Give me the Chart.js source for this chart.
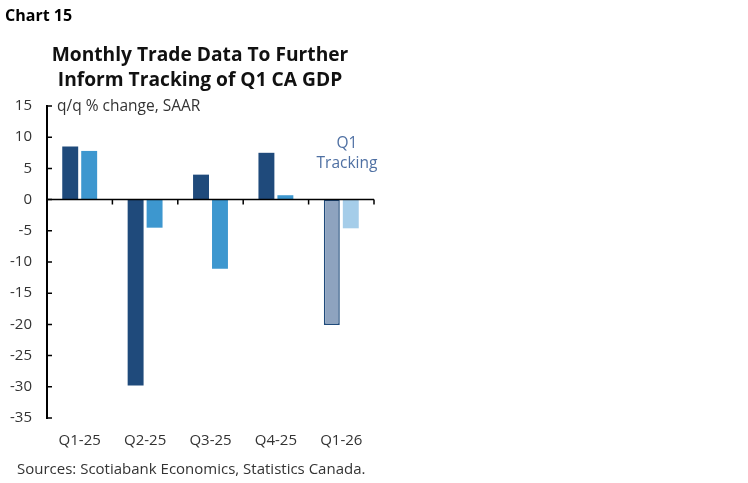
<!DOCTYPE html>
<html lang="en">
<head>
    <meta charset="UTF-8">
    <title>Chart 15</title>
    <script src="https://cdn.jsdelivr.net/npm/chart.js"></script>
    <style>
        html, body {
            margin: 0;
            padding: 0;
            background: #fff;
        }
        #wrap {
            position: relative;
            width: 748px;
            height: 483px;
            font-family: "Open Sans", Lato, sans-serif;
        }
        #chartNo {
            position: absolute;
            left: 5px;
            top: 4px;
            font-size: 16px;
            font-weight: bold;
            color: #000;
        }
        #title {
            position: absolute;
            left: 0;
            width: 400px;
            top: 41px;
            text-align: center;
            font-size: 19.2px;
            font-weight: bold;
            line-height: 25px;
            color: #111;
        }
        #source {
            position: absolute;
            left: 17px;
            top: 458px;
            font-size: 15px;
            color: #333;
        }
        canvas {
            position: absolute;
            left: 0;
            top: 0;
        }
    </style>
</head>
<body>
<div id="wrap">
    <canvas id="bars" width="748" height="483"></canvas>
    <div id="chartNo">Chart 15</div>
    <div id="title">Monthly Trade Data To Further<br>Inform Tracking of Q1 CA GDP</div>
    <div id="source">Sources: Scotiabank Economics, Statistics Canada.</div>
</div>

<script>
    const quarters = ['Q1-25', 'Q2-25', 'Q3-25', 'Q4-25', 'Q1-26'];
    const darkSeries = [8.5, -29.8, 4.0, 7.5, -20.1];
    const lightSeries = [7.8, -4.5, -11.1, 0.7, -4.6];
    const yTicks = [15, 10, 5, 0, -5, -10, -15, -20, -25, -30, -35];

    const navy = '#1f4a7b';
    const blue = '#3d97cf';
    const fontName = '"Open Sans"';

    // extra lines: zero axis with category ticks, inward y ticks, labels
    const axisBits = {
        id: 'axisBits',
        afterDatasetsDraw(chart) {
            const ctx = chart.ctx;
            const y = chart.scales.y;
            const area = chart.chartArea;
            const y0 = y.getPixelForValue(0);

            ctx.save();
            ctx.strokeStyle = '#000';
            ctx.lineWidth = 1.5;
            ctx.beginPath();
            ctx.moveTo(area.left, y0);
            ctx.lineTo(area.right, y0);
            const step = (area.right - area.left) / quarters.length;
            for (let i = 1; i <= quarters.length; i++) {
                const px = area.left + step * i;
                ctx.moveTo(px, y0);
                ctx.lineTo(px, y0 + 5);
            }
            ctx.stroke();

            ctx.beginPath();
            yTicks.forEach(v => {
                const py = y.getPixelForValue(v);
                ctx.moveTo(area.left, py);
                ctx.lineTo(area.left + 5, py);
            });
            ctx.stroke();

            ctx.fillStyle = '#333';
            ctx.font = '15.5px ' + fontName;
            ctx.textBaseline = 'middle';
            ctx.textAlign = 'left';
            ctx.fillText('q/q % change, SAAR', area.left + 10, y.getPixelForValue(15) + 1);

            ctx.fillStyle = '#4f70a3';
            ctx.font = '15.5px ' + fontName;
            ctx.textAlign = 'center';
            ctx.fillText('Q1', 347, 144);
            ctx.fillText('Tracking', 347, 164);
            ctx.restore();
        }
    };

    const ctx = document.getElementById('bars').getContext('2d');

    new Chart(ctx, {
        type: 'bar',
        data: {
            labels: quarters,
            datasets: [{
                data: darkSeries,
                backgroundColor: [navy, navy, navy, navy, '#8ea3bf'],
                borderColor: [navy, navy, navy, navy, navy],
                borderWidth: [0, 0, 0, 0, 1.5],
                borderSkipped: false,
                categoryPercentage: 0.58,
                barPercentage: 0.84
            }, {
                data: lightSeries,
                backgroundColor: [blue, blue, blue, blue, '#a5cde9'],
                borderWidth: 0,
                categoryPercentage: 0.58,
                barPercentage: 0.84
            }]
        },
        options: {
            responsive: false,
            animation: false,
            layout: {
                padding: { left: 0, top: 106, right: 374, bottom: 30 }
            },
            plugins: {
                legend: { display: false },
                title: { display: false },
                tooltip: { enabled: false }
            },
            scales: {
                x: {
                    grid: { display: false, drawTicks: false },
                    border: { display: false },
                    ticks: {
                        color: '#333',
                        font: { family: fontName, size: 15 },
                        padding: 14,
                        maxRotation: 0
                    },
                    afterFit(scale) { scale.height = 35; }
                },
                y: {
                    min: -35,
                    max: 15,
                    grid: { display: false, drawTicks: false },
                    border: { display: true, color: '#000', width: 2 },
                    ticks: {
                        stepSize: 5,
                        color: '#333',
                        font: { family: fontName, size: 15 },
                        padding: 15
                    },
                    afterFit(scale) { scale.width = 47; }
                }
            }
        },
        plugins: [axisBits]
    });
</script>
</body>
</html>
